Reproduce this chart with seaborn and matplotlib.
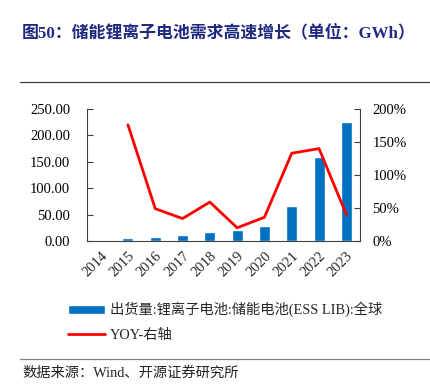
import numpy as np
import pandas as pd
import matplotlib
matplotlib.use("Agg")
import matplotlib.pyplot as plt
import seaborn as sns
from matplotlib.ticker import FuncFormatter, FixedLocator

years = ["2014", "2015", "2016", "2017", "2018", "2019", "2020", "2021", "2022", "2023"]
shipments = [1.5, 5.5, 8.2, 11.0, 17.0, 21.0, 28.0, 66.0, 159.0, 225.0]
yoy = [np.nan, 176, 49, 34, 59, 20, 36, 133, 140, 40]

sns.set_style("white")
plt.rcParams['font.family'] = ['Liberation Serif', 'Noto Sans CJK SC']
plt.rcParams['axes.unicode_minus'] = False

df = pd.DataFrame({"year": years, "shipments": shipments, "yoy": yoy})
df["idx"] = range(len(df))

fig = plt.figure(figsize=(4.31, 3.88), dpi=100)
ax = fig.add_axes([87/431, 1 - 241/388, (360-87)/431, (241-109)/388])

sns.barplot(data=df, x="year", y="shipments", color="#0070C0", saturation=1,
            width=0.4, ax=ax, label="出货量:锂离子电池:储能电池(ESS LIB):全球")
h1, l1 = ax.get_legend_handles_labels()
if ax.get_legend() is not None:
    ax.get_legend().remove()
ax.set_ylim(0, 250)
ax.set_yticks(np.arange(0, 251, 50))
ax.yaxis.set_major_formatter(FuncFormatter(lambda v, p: f"{v:.2f}"))
ax.set_xlim(-0.5, len(years) - 0.5)
ax.set_xlabel("")
ax.set_ylabel("")

ax2 = ax.twinx()
sns.lineplot(data=df, x="idx", y="yoy", color="#FF0000", linewidth=2, ax=ax2,
             label="YOY-右轴", legend=False)
h2, l2 = ax2.get_legend_handles_labels()
ax2.set_ylim(0, 200)
ax2.set_yticks(np.arange(0, 201, 50))
ax2.yaxis.set_major_formatter(FuncFormatter(lambda v, p: f"{v:.0f}%"))
ax2.set_ylabel("")
ax2.set_xlabel("")
ax.set_xlim(-0.5, len(years) - 0.5)

for a in (ax, ax2):
    a.spines["top"].set_visible(False)
    for s in ("left", "right", "bottom"):
        a.spines[s].set_color("#404040")
        a.spines[s].set_linewidth(0.8)
ax.spines["right"].set_visible(False)
ax2.spines["left"].set_visible(False)
ax2.spines["bottom"].set_visible(False)

ax.tick_params(axis="y", direction="in", length=4, labelsize=10.5, colors="#404040",
               labelcolor="black", pad=12)
ax2.tick_params(axis="y", direction="in", length=4, labelsize=10.5, colors="#404040",
                labelcolor="black", pad=9)
ax.set_xticks(range(len(years)))
ax.set_xticklabels(years, rotation=45, ha="right", rotation_mode="anchor", fontsize=10.5)
ax.tick_params(axis="x", which="major", length=0, pad=6)
ax.xaxis.set_minor_locator(FixedLocator(np.arange(-0.5, len(years), 1.0)))
ax.tick_params(axis="x", which="minor", direction="in", length=4, color="#404040")

# title
fig.text(22/431, 1 - 33/388, "图50：储能锂离子电池需求高速增长（单位：GWh）",
         fontsize=12.2, fontweight="bold", color="#1F2A80", va="center", ha="left")
fig.add_artist(plt.Line2D([20/431, 1], [1 - 82/388] * 2, color="#404040", linewidth=0.9))

# legend
fig.legend(h1 + h2, l1 + l2, loc="upper left", bbox_to_anchor=(55/431, 1 - 289/388),
           frameon=False, fontsize=10.3, handlelength=2.6, handleheight=0.55,
           labelspacing=0.8, handletextpad=0.35)

fig.add_artist(plt.Line2D([20/431, 1], [1 - 359/388] * 2, color="#808080", linewidth=0.9))
fig.text(22/431, 1 - 373/388, "数据来源：Wind、开源证券研究所", fontsize=10.3,
         va="center", ha="left", color="#222222")

fig.savefig("out.png", dpi=100)
